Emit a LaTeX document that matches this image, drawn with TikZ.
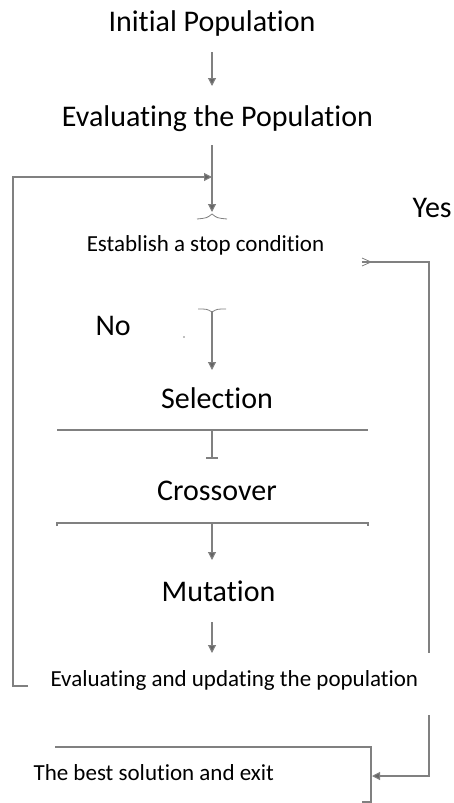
\documentclass[tikz,border=0pt]{standalone}
\usepackage{fontspec}
\setmainfont{Carlito}[Ligatures=NoCommon,RawFeature=-calt,RawFeature=-clig]
\usetikzlibrary{arrows.meta}
\definecolor{linegray}{RGB}{128,128,128}
\definecolor{tipgray}{RGB}{100,100,100}

\begin{document}
\begin{tikzpicture}[x=1pt,y=-1pt,line width=1.1pt,
  >={Triangle[width=8pt,length=8pt,fill=tipgray]},
  line/.style={draw=linegray},
  flow/.style={draw=linegray,->},
  tick/.style={draw=linegray,line width=0.8pt},
  big/.style={font=\fontsize{30}{36}\selectfont,inner sep=0pt},
  small/.style={font=\fontsize{23}{28}\selectfont,inner sep=0pt}]
  \useasboundingbox (0,0) rectangle (453,803);

  % texts
  \node[big,anchor=base] (init) at (212,31) {Initial Population};
  \node[big,anchor=base] (evalpop) at (217.5,126) {Evaluating the Population};
  \node[small,anchor=base] (stop) at (205.5,251) {Establish a stop condition};
  \node[big,anchor=base west] (yes) at (412,217) {Yes};
  \node[big,anchor=base west] (no) at (95,335) {No};
  \node[big,anchor=base] (sel) at (217,408) {Selection};
  \node[big,anchor=base] (cross) at (217,500) {Crossover};
  \node[big,anchor=base] (mut) at (218.5,601) {Mutation};
  \node[small,anchor=base west] (update) at (50,686) {Evaluating and updating the population};
  \node[small,anchor=base west] (best) at (33,780) {The best solution and exit};

  % initial -> evaluating
  \coordinate (a1s) at (212,52);
  \coordinate (a1e) at (212,86);
  \draw[flow] (a1s) -- (a1e);

  % evaluating -> stop condition, with the loop back
  \coordinate (a2s) at (212,145);
  \coordinate (a2e) at (212,212);
  \coordinate (join) at (212,177);
  \coordinate (loopA) at (28,686);
  \coordinate (loopB) at (13,686);
  \coordinate (loopC) at (13,177);
  \draw[flow] (a2s) -- (a2e);
  \draw[flow] (loopA) -- (loopB) -- (loopC) -- (join);
  \draw[tick] (197,219) .. controls (207,218) .. (212,214) .. controls (217,218) .. (227,219);

  % yes branch
  \coordinate (y1) at (362,262);
  \coordinate (y2) at (429,262);
  \coordinate (y3) at (429,653);
  \coordinate (y4) at (429,715);
  \coordinate (y5) at (429,776);
  \coordinate (y6) at (372,776);
  \draw[line] (y1) -- (y2) -- (y3);
  \draw[tick] (362,258) -- (371,262) -- (362,266);
  \draw[flow] (y4) -- (y5) -- (y6);

  % no branch
  \coordinate (n1) at (212,311);
  \coordinate (n2) at (212,370);
  \draw[flow] (n1) -- (n2);
  \draw[tick] (198,309) .. controls (207,309) .. (212,312) .. controls (217,309) .. (226,309);
  \fill[linegray] (184,337) circle (0.9pt);

  % selection -> crossover
  \coordinate (s1) at (57,430);
  \coordinate (s2) at (368,430);
  \coordinate (s3) at (212,430);
  \coordinate (s4) at (212,458);
  \draw[line] (s1) -- (s2);
  \draw[line] (s3) -- (s4);
  \draw[line] (206,458) -- (218,458);

  % crossover -> mutation
  \coordinate (c1) at (57,523);
  \coordinate (c2) at (368,523);
  \coordinate (c3) at (212,523);
  \coordinate (c4) at (212,560);
  \draw[line] (57,526) -- (c1) -- (c2) -- (368,526);
  \draw[flow] (c3) -- (c4);

  % mutation -> update
  \coordinate (m1) at (212,622);
  \coordinate (m2) at (212,653);
  \draw[flow] (m1) -- (m2);

  % frame of the exit box
  \coordinate (b1) at (55,747);
  \coordinate (b2) at (371,747);
  \coordinate (b3) at (371,802);
  \coordinate (b4) at (362,802);
  \draw[line] (b1) -- (b2) -- (b3) -- (b4);
\end{tikzpicture}
\end{document}
